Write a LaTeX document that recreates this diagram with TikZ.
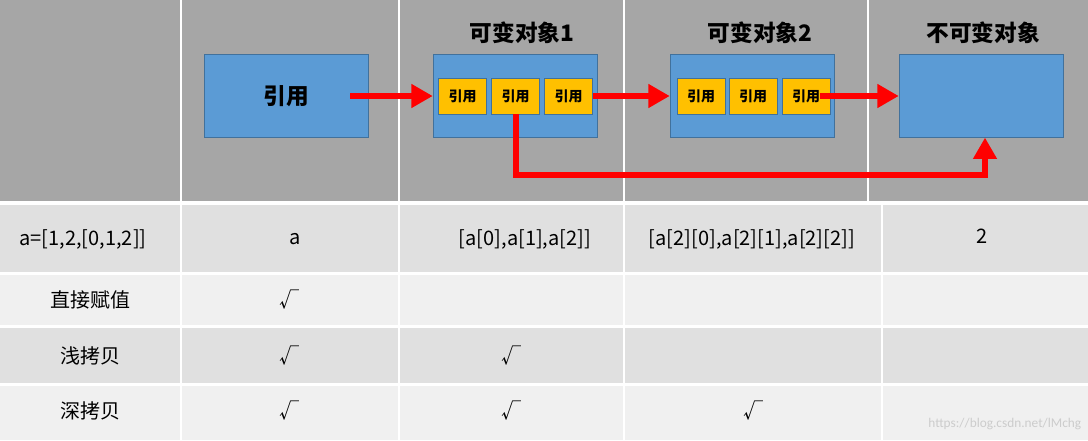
\documentclass[tikz,border=0pt]{standalone}
\usepackage{fontspec}
\setmainfont{Carlito}
\newfontfamily\cjk{Noto Sans CJK SC}
\usetikzlibrary{arrows.meta}
\definecolor{hdgray}{HTML}{A6A6A6}
\definecolor{rowdark}{HTML}{E0E0E0}
\definecolor{rowlight}{HTML}{F0F0F0}
\definecolor{objblue}{HTML}{5B9BD5}
\definecolor{objedge}{HTML}{41719C}
\definecolor{refyel}{HTML}{FFC000}
\tikzset{
  obj/.style={rectangle, fill=objblue, draw=objedge, minimum width=123pt, minimum height=62pt, inner sep=0pt},
  ref/.style={rectangle, fill=refyel, draw=objedge, minimum width=36pt, minimum height=27pt, inner sep=0pt, font=\cjk\bfseries\fontsize{10.5}{11}\selectfont},
  title/.style={font=\cjk\bfseries\fontsize{17}{17}\selectfont},
  cell/.style={font=\cjk\fontsize{15}{15}\selectfont},
  ptr/.style={-{Triangle[length=16pt,width=17pt]}, red, line width=4.5pt}
}
\begin{document}
\begin{tikzpicture}[x=0.75pt, y=-0.75pt]
    \useasboundingbox (0,0) rectangle (1088,440);
    % background
    \fill[white] (0,0) rectangle (1088,440);
    \fill[hdgray] (0,0) rectangle (1088,201);
    \fill[rowdark] (0,205) rectangle (1088,272);
    \fill[rowlight] (0,275) rectangle (1088,325);
    \fill[rowdark] (0,328) rectangle (1088,383);
    \fill[rowlight] (0,386) rectangle (1088,440);
    \foreach \x in {181,399,624,868} \draw[white, line width=1.5pt] (\x,0) -- (\x,201);
    \foreach \x in {181,399,624,882} \draw[white, line width=1.5pt] (\x,203) -- (\x,440);

    % objects
    \node[obj] (r) at (286,96) {\cjk\bfseries\fontsize{17}{17}\selectfont 引用};
    \node[obj] (o1) at (515,96) {};
    \node[obj] (o2) at (752,96) {};
    \node[obj] (im) at (981,96) {};
    \node[title] (t1) at (522,33) {可变对象1};
    \node[title] (t2) at (760,33) {可变对象2};
    \node[title] (t3) at (983,33) {不可变对象};

    \node[ref] (a1) at (462.5,96) {引用};
    \node[ref] (a2) at (515.5,96) {引用};
    \node[ref] (a3) at (568.5,96) {引用};
    \node[ref] (b1) at (701,96) {引用};
    \node[ref] (b2) at (753,96) {引用};
    \node[ref] (b3) at (806,96) {引用};

    \coordinate (start) at (350,96);
    \coordinate (b3e) at (820,96);
    \coordinate (bend) at (985,175);

    \draw[ptr] (start) -- (o1.west);
    \draw[ptr] (a3.east) -- (o2.west);
    \draw[ptr] (b3e) -- (im.west);
    \draw[ptr] (a2.south) |- (bend) -- (im.south -| bend);

    % table
    \node[cell] (c00) at (83,239) {a=[1,2,[0,1,2]]};
    \node[cell] (c01) at (295,239) {a};
    \node[cell] (c02) at (525,239) {[a[0],a[1],a[2]]};
    \node[cell] (c03) at (752,239) {[a[2][0],a[2][1],a[2][2]]};
    \node[cell] (c04) at (982,236) {2};
    \node[cell] (c10) at (90,300) {直接赋值};
    \node[cell] (c11) at (289,300) {√};
    \node[cell] (c20) at (90,356) {浅拷贝};
    \node[cell] (c21) at (289,356) {√};
    \node[cell] (c22) at (511,356) {√};
    \node[cell] (c30) at (90,411) {深拷贝};
    \node[cell] (c31) at (289,411) {√};
    \node[cell] (c32) at (511,411) {√};
    \node[cell] (c33) at (753,411) {√};
    \node[font=\fontsize{10}{10}\selectfont, text=black!20, anchor=east] (wm) at (1086,424) {https://blog.csdn.net/lMchg};
\end{tikzpicture}
\end{document}
